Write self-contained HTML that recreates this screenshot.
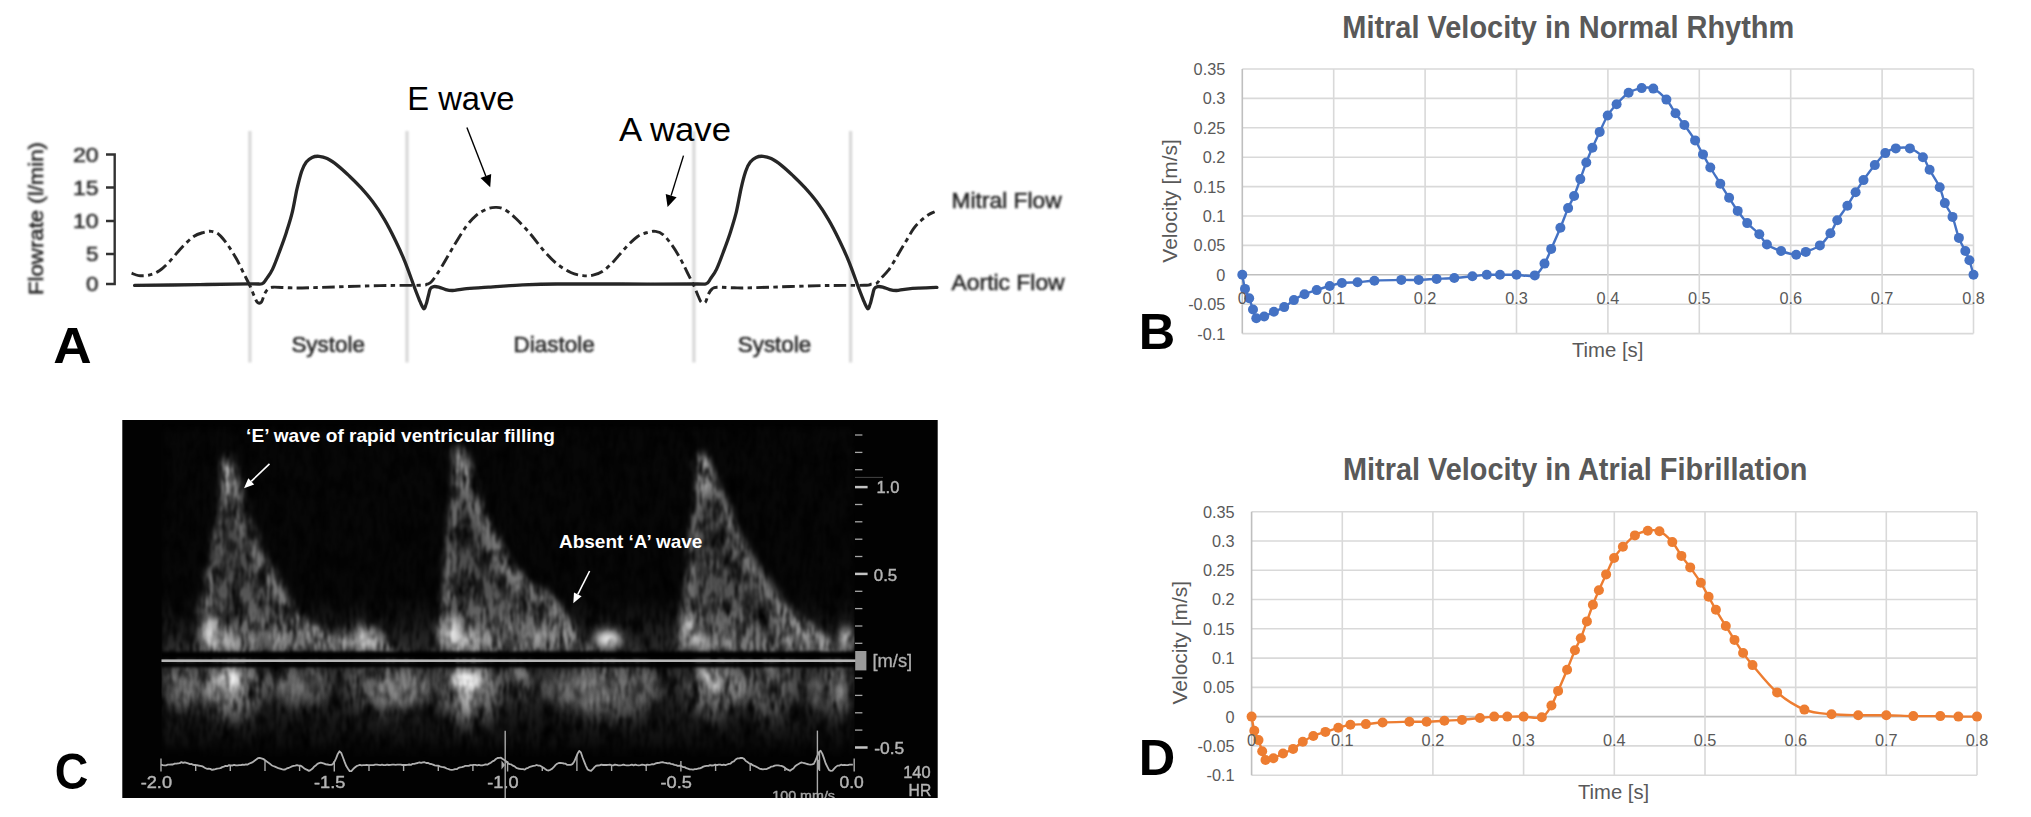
<!DOCTYPE html>
<html lang="en"><head><meta charset="utf-8"><title>Mitral flow figure</title>
<style>html,body{margin:0;padding:0;background:#fff;overflow:hidden}svg{display:block}</style></head><body>
<svg width="2031" height="817" viewBox="0 0 2031 817">
<defs>
<filter id="soft1" filterUnits="userSpaceOnUse" x="0" y="100" width="1100" height="300"><feGaussianBlur stdDeviation="0.95"/></filter>
<filter id="soft" x="-5%" y="-5%" width="110%" height="110%"><feGaussianBlur stdDeviation="0.7"/></filter>
<filter id="gapblur" filterUnits="userSpaceOnUse" x="150" y="640" width="720" height="40"><feGaussianBlur stdDeviation="0 1.6"/></filter>
<filter id="blur7" filterUnits="userSpaceOnUse" x="140" y="640" width="740" height="130"><feGaussianBlur stdDeviation="7 9"/></filter>
<clipPath id="specclip"><rect x="161.5" y="424" width="693" height="333"/></clipPath>
<filter id="speckle" filterUnits="userSpaceOnUse" x="140" y="410" width="740" height="360" color-interpolation-filters="sRGB"><feGaussianBlur in="SourceGraphic" stdDeviation="3.3" result="b"/><feTurbulence type="fractalNoise" baseFrequency="0.3 0.06" numOctaves="2" seed="11" result="t1"/><feColorMatrix in="t1" type="matrix" values="1.7 0 0 0 -0.22  1.7 0 0 0 -0.22  1.7 0 0 0 -0.22  0 0 0 0 1" result="n1"/><feTurbulence type="fractalNoise" baseFrequency="0.07 0.04" numOctaves="3" seed="3" result="t2"/><feColorMatrix in="t2" type="matrix" values="1.9 0 0 0 -0.25  1.9 0 0 0 -0.25  1.9 0 0 0 -0.25  0 0 0 0 1" result="n2"/><feComposite in="n1" in2="n2" operator="arithmetic" k1="1.5" k2="0" k3="0" k4="0" result="n"/><feComposite in="b" in2="n" operator="arithmetic" k1="1" k2="0" k3="0" k4="0" result="m"/><feGaussianBlur in="m" stdDeviation="1.1"/></filter>
<linearGradient id="gAbove" gradientUnits="userSpaceOnUse" x1="0" y1="596" x2="0" y2="653"><stop offset="0" stop-color="#fff" stop-opacity="0"/><stop offset="0.6" stop-color="#fff" stop-opacity="0.09"/><stop offset="1" stop-color="#fff" stop-opacity="0.15"/></linearGradient>
<linearGradient id="gBelow" gradientUnits="userSpaceOnUse" x1="0" y1="667" x2="0" y2="757"><stop offset="0" stop-color="#fff" stop-opacity="0.16"/><stop offset="0.5" stop-color="#fff" stop-opacity="0.08"/><stop offset="1" stop-color="#fff" stop-opacity="0.01"/></linearGradient>
<linearGradient id="gWave" gradientUnits="userSpaceOnUse" x1="0" y1="450" x2="0" y2="650"><stop offset="0" stop-color="#fff" stop-opacity="0.22"/><stop offset="0.6" stop-color="#fff" stop-opacity="0.29"/><stop offset="1" stop-color="#fff" stop-opacity="0.38"/></linearGradient>
<filter id="speckle2" filterUnits="userSpaceOnUse" x="140" y="410" width="740" height="360" color-interpolation-filters="sRGB"><feGaussianBlur in="SourceGraphic" stdDeviation="4.6" result="b"/><feTurbulence type="fractalNoise" baseFrequency="0.13 0.07" numOctaves="2" seed="4" result="t"/><feColorMatrix in="t" type="matrix" values="1.8 0 0 0 0.05  1.8 0 0 0 0.05  1.8 0 0 0 0.05  0 0 0 0 1" result="n"/><feComposite in="b" in2="n" operator="arithmetic" k1="1" k2="0" k3="0" k4="0" result="m"/><feGaussianBlur in="m" stdDeviation="0.8"/></filter>
</defs>
<rect width="2031" height="817" fill="#fff"/>
<g id="panelA">
<rect x="248.3" y="131" width="3.2" height="231.5" fill="#d8d8d8" filter="url(#soft1)"/>
<rect x="405.4" y="131" width="3.2" height="231.5" fill="#d8d8d8" filter="url(#soft1)"/>
<rect x="692.3" y="131" width="3.2" height="231.5" fill="#d8d8d8" filter="url(#soft1)"/>
<rect x="849.0" y="131" width="3.2" height="231.5" fill="#d8d8d8" filter="url(#soft1)"/>
<g stroke="#333" stroke-width="2.4" fill="none" filter="url(#soft)">
<path d="M106,154.5H114.7V284H106M106,187.5H114.7M106,221H114.7M106,254H114.7"/>
</g>
<g font-family='"Liberation Sans", Arial, sans-serif' font-size="20.5" fill="#262626" stroke="#262626" stroke-width="0.45" text-anchor="end" filter="url(#soft1)">
<text x="98.6" y="161.9" textLength="25.7" lengthAdjust="spacingAndGlyphs">20</text>
<text x="98.6" y="194.9" textLength="25.7" lengthAdjust="spacingAndGlyphs">15</text>
<text x="98.6" y="228.4" textLength="25.7" lengthAdjust="spacingAndGlyphs">10</text>
<text x="98.6" y="261.4" textLength="12.5" lengthAdjust="spacingAndGlyphs">5</text>
<text x="98.6" y="291.4" textLength="12.5" lengthAdjust="spacingAndGlyphs">0</text>
</g>
<g filter="url(#soft1)"><text transform="translate(43.4,295) rotate(-90)" font-family='"Liberation Sans", Arial, sans-serif' font-size="20.5" fill="#2c2c2c" stroke="#2c2c2c" stroke-width="0.6" textLength="153" lengthAdjust="spacingAndGlyphs">Flowrate (l/min)</text></g>
<path d="M134.6,285.4C145.5,285.3 180.8,284.9 200.0,284.6C219.2,284.3 239.7,284.0 250.0,283.8C260.4,283.6 259.3,284.6 262.1,283.7C264.9,282.8 264.9,280.8 266.7,278.4C268.4,276.0 270.5,273.6 272.6,269.1C274.7,264.6 277.2,257.8 279.5,251.6C281.8,245.4 284.4,238.5 286.5,231.9C288.6,225.3 290.6,219.3 292.3,212.1C294.1,204.9 295.4,195.6 297.0,188.8C298.6,182.0 300.1,175.9 301.6,171.4C303.2,166.9 304.6,164.4 306.3,162.1C308.1,159.8 310.0,158.4 312.1,157.4C314.2,156.4 316.6,156.1 319.1,156.3C321.6,156.5 324.1,157.1 327.2,158.6C330.3,160.1 334.0,162.7 337.7,165.6C341.4,168.5 345.4,172.3 349.3,176.0C353.2,179.7 357.0,183.4 360.9,187.7C364.8,192.0 368.7,196.4 372.6,201.6C376.5,206.8 380.3,212.5 384.2,219.1C388.1,225.7 392.3,234.0 395.8,241.2C399.3,248.4 402.2,254.9 405.1,262.1C408.0,269.3 411.0,278.0 413.3,284.2C415.6,290.4 417.4,295.2 419.1,299.3C420.8,303.4 422.4,307.8 423.6,308.6C424.8,309.4 425.4,306.1 426.2,304.0C427.0,301.9 427.6,298.5 428.3,296.0C429.0,293.5 429.4,290.4 430.3,288.8C431.2,287.2 432.3,286.9 433.7,286.6C435.1,286.3 436.8,286.6 438.8,287.1C440.8,287.6 443.4,289.0 445.7,289.6C448.0,290.2 449.5,290.6 452.6,290.5C455.7,290.4 458.5,289.4 464.5,288.8C470.5,288.2 478.8,287.8 488.5,287.1C498.2,286.5 511.4,285.4 522.8,284.9C534.2,284.4 540.9,284.1 557.1,284.0C573.3,283.9 597.2,284.0 620.0,284.0C642.8,284.0 679.8,284.1 694.1,284.0C708.5,283.9 703.3,284.6 706.1,283.7C708.9,282.8 709.0,280.8 710.7,278.4C712.5,276.0 714.5,273.6 716.6,269.1C718.7,264.6 721.2,257.8 723.5,251.6C725.8,245.4 728.4,238.5 730.5,231.9C732.6,225.3 734.5,219.3 736.3,212.1C738.0,204.9 739.5,195.6 741.0,188.8C742.5,182.0 744.1,175.9 745.6,171.4C747.1,166.9 748.5,164.4 750.3,162.1C752.0,159.8 754.0,158.4 756.1,157.4C758.2,156.4 760.6,156.1 763.1,156.3C765.6,156.5 768.1,157.1 771.2,158.6C774.3,160.1 778.0,162.7 781.7,165.6C785.4,168.5 789.4,172.3 793.3,176.0C797.2,179.7 801.0,183.4 804.9,187.7C808.8,192.0 812.7,196.4 816.6,201.6C820.5,206.8 824.3,212.5 828.2,219.1C832.1,225.7 836.3,234.0 839.8,241.2C843.3,248.4 846.2,254.9 849.1,262.1C852.0,269.3 855.0,278.0 857.3,284.2C859.6,290.4 861.4,295.2 863.1,299.3C864.8,303.4 866.4,307.8 867.6,308.6C868.8,309.4 869.4,306.1 870.2,304.0C871.0,301.9 871.6,298.5 872.3,296.0C873.0,293.5 873.4,290.4 874.3,288.8C875.2,287.2 876.3,286.9 877.7,286.6C879.1,286.3 880.8,286.6 882.8,287.1C884.8,287.6 887.4,289.0 889.7,289.6C892.0,290.2 893.5,290.6 896.6,290.5C899.7,290.4 901.8,289.3 908.5,288.8C915.2,288.3 932.2,287.6 936.9,287.4" fill="none" stroke="#262626" stroke-width="3.3" stroke-linejoin="round" stroke-linecap="round" filter="url(#soft)"/>
<path d="M131.6,273.2C132.8,273.6 135.9,275.3 138.8,275.6C141.7,275.9 145.6,275.9 149.0,275.1C152.4,274.3 155.9,273.1 159.3,270.8C162.7,268.5 165.9,265.2 169.6,261.4C173.3,257.5 177.6,251.8 181.6,247.7C185.6,243.5 189.9,239.1 193.6,236.5C197.3,233.9 200.9,233.2 203.9,232.3C206.9,231.5 209.0,231.0 211.6,231.4C214.2,231.8 216.6,232.5 219.3,234.8C222.0,237.1 225.0,241.1 227.9,245.1C230.7,249.1 233.8,254.2 236.4,258.8C239.0,263.4 241.0,267.9 243.3,272.5C245.6,277.1 248.3,282.2 250.1,286.2C252.0,290.2 253.2,293.8 254.4,296.5C255.6,299.2 256.2,301.4 257.4,302.3C258.6,303.2 260.3,303.4 261.5,302.0C262.7,300.6 263.4,296.2 264.5,294.0C265.6,291.8 266.6,290.1 268.0,289.0C269.4,287.9 269.3,287.4 273.0,287.2C276.7,287.0 283.9,287.7 290.0,287.8C296.1,287.9 294.9,288.1 309.8,287.7C324.7,287.3 361.1,286.0 379.5,285.6C397.9,285.2 412.1,285.5 420.0,285.3C427.9,285.1 425.0,284.9 427.0,284.2C429.0,283.5 429.4,284.2 432.0,281.1C434.6,278.0 438.6,271.7 442.3,265.7C446.0,259.7 450.3,251.7 454.3,245.1C458.3,238.5 462.6,231.3 466.3,226.3C470.0,221.3 473.1,218.0 476.5,215.1C479.9,212.2 483.7,210.4 486.8,209.1C489.9,207.8 492.5,207.4 495.4,207.4C498.3,207.4 500.6,207.2 504.0,209.1C507.4,210.9 511.6,214.5 515.9,218.5C520.2,222.5 525.1,227.8 529.7,233.1C534.3,238.4 538.8,245.0 543.4,250.2C548.0,255.3 552.5,260.3 557.1,264.0C561.7,267.7 566.5,270.6 570.8,272.5C575.1,274.4 579.1,275.2 582.8,275.6C586.5,276.0 589.6,275.9 593.0,275.1C596.4,274.3 599.9,273.1 603.3,270.8C606.7,268.5 609.9,265.2 613.6,261.4C617.3,257.5 621.6,251.8 625.6,247.7C629.6,243.5 633.9,239.1 637.6,236.5C641.3,233.9 644.9,233.2 647.9,232.3C650.9,231.5 653.0,231.0 655.6,231.4C658.2,231.8 660.6,232.5 663.3,234.8C666.0,237.1 669.0,241.1 671.9,245.1C674.8,249.1 677.8,254.2 680.4,258.8C683.0,263.4 685.0,267.9 687.3,272.5C689.6,277.1 692.2,282.2 694.1,286.2C696.0,290.2 697.2,293.8 698.4,296.5C699.6,299.2 700.2,301.4 701.4,302.3C702.6,303.2 704.3,303.4 705.5,302.0C706.7,300.6 707.4,296.2 708.5,294.0C709.6,291.8 710.6,290.1 712.0,289.0C713.4,287.9 713.3,287.4 717.0,287.2C720.7,287.0 727.9,287.7 734.0,287.8C740.1,287.9 738.9,288.1 753.8,287.7C768.7,287.3 805.1,286.0 823.5,285.6C841.9,285.2 856.1,285.5 864.0,285.3C871.9,285.1 868.9,284.5 871.0,284.2C873.1,283.9 875.1,284.2 876.7,283.3C878.3,282.4 878.4,281.1 880.4,278.9C882.4,276.7 886.0,273.3 888.5,270.1C891.0,266.9 893.0,263.2 895.1,259.8C897.2,256.4 899.0,252.8 901.0,249.5C903.0,246.2 904.7,243.3 906.8,239.9C908.9,236.5 911.1,232.1 913.4,228.9C915.7,225.7 918.3,223.1 920.8,220.8C923.2,218.5 925.8,216.5 928.1,215.0C930.4,213.5 933.5,212.3 934.6,211.8" fill="none" stroke="#262626" stroke-width="2.9" stroke-dasharray="12.5 4.4 4.4 4.4" filter="url(#soft)"/>
<g font-family='"Liberation Sans", Arial, sans-serif' font-size="22.6" fill="#262626" stroke="#262626" stroke-width="0.55" filter="url(#soft1)">
<text x="951.6" y="208.1" textLength="110" lengthAdjust="spacingAndGlyphs">Mitral Flow</text>
<text x="951.6" y="289.9" textLength="113" lengthAdjust="spacingAndGlyphs">Aortic Flow</text>
<text x="291.4" y="352.2" textLength="73.6" lengthAdjust="spacingAndGlyphs">Systole</text>
<text x="513.4" y="352.2" textLength="81.3" lengthAdjust="spacingAndGlyphs">Diastole</text>
<text x="737.7" y="352.2" textLength="73.6" lengthAdjust="spacingAndGlyphs">Systole</text>
</g>
<g font-family='"Liberation Sans", Arial, sans-serif' font-size="34" fill="#000">
<text x="407.3" y="109.6" textLength="107.2" lengthAdjust="spacingAndGlyphs">E wave</text>
<text x="619" y="141" textLength="112" lengthAdjust="spacingAndGlyphs">A wave</text>
</g>
<line x1="466.9" y1="127.4" x2="485.8" y2="176.0" stroke="#000" stroke-width="1.4"/>
<polygon points="490.2,187.2 480.5,178.1 491.2,173.9" fill="#000"/>
<line x1="683.5" y1="155.6" x2="671.1" y2="195.6" stroke="#000" stroke-width="1.4"/>
<polygon points="667.6,207.1 665.7,194.0 676.6,197.3" fill="#000"/>
</g>
<g>
<g stroke="#d9d9d9" stroke-width="1.6" fill="none">
<line x1="1242.3" y1="69.0" x2="1973.5" y2="69.0"/>
<line x1="1242.3" y1="98.4" x2="1973.5" y2="98.4"/>
<line x1="1242.3" y1="127.8" x2="1973.5" y2="127.8"/>
<line x1="1242.3" y1="157.2" x2="1973.5" y2="157.2"/>
<line x1="1242.3" y1="186.6" x2="1973.5" y2="186.6"/>
<line x1="1242.3" y1="216.0" x2="1973.5" y2="216.0"/>
<line x1="1242.3" y1="245.4" x2="1973.5" y2="245.4"/>
<line x1="1242.3" y1="274.8" x2="1973.5" y2="274.8" stroke="#bfbfbf"/>
<line x1="1242.3" y1="304.2" x2="1973.5" y2="304.2"/>
<line x1="1242.3" y1="333.6" x2="1973.5" y2="333.6"/>
<line x1="1242.3" y1="69.0" x2="1242.3" y2="333.6" stroke="#bfbfbf"/>
<line x1="1333.7" y1="69.0" x2="1333.7" y2="333.6"/>
<line x1="1425.1" y1="69.0" x2="1425.1" y2="333.6"/>
<line x1="1516.5" y1="69.0" x2="1516.5" y2="333.6"/>
<line x1="1607.9" y1="69.0" x2="1607.9" y2="333.6"/>
<line x1="1699.3" y1="69.0" x2="1699.3" y2="333.6"/>
<line x1="1790.7" y1="69.0" x2="1790.7" y2="333.6"/>
<line x1="1882.1" y1="69.0" x2="1882.1" y2="333.6"/>
<line x1="1973.5" y1="69.0" x2="1973.5" y2="333.6"/>
</g>
<path d="M1242.3,274.8C1242.8,277.2 1243.9,285.0 1245.0,288.9C1246.2,292.8 1247.9,294.9 1249.2,298.3C1250.6,301.8 1251.8,306.2 1253.0,309.5C1254.2,312.8 1254.4,317.1 1256.3,318.3C1258.2,319.5 1261.3,317.6 1264.2,316.5C1267.2,315.5 1270.6,313.4 1273.9,311.8C1277.2,310.3 1280.8,309.1 1284.2,307.1C1287.5,305.2 1290.6,302.2 1293.9,300.1C1297.3,297.9 1300.7,295.9 1304.5,294.2C1308.2,292.5 1312.5,291.5 1316.7,290.1C1320.9,288.7 1325.5,287.1 1329.7,286.0C1333.9,284.8 1337.3,283.6 1341.9,283.0C1346.6,282.4 1352.1,282.7 1357.5,282.3C1362.9,281.9 1367.1,281.1 1374.4,280.7C1381.7,280.3 1393.9,280.0 1401.3,279.9C1408.7,279.8 1412.8,280.1 1418.7,279.9C1424.6,279.7 1430.7,279.2 1436.6,278.9C1442.6,278.6 1448.4,278.5 1454.3,278.0C1460.3,277.6 1467.0,276.8 1472.4,276.2C1477.9,275.7 1482.2,275.0 1486.8,274.8C1491.4,274.6 1495.1,274.8 1500.0,274.8C1505.0,274.8 1510.7,274.7 1516.5,274.8C1522.3,274.9 1530.1,277.3 1534.8,275.4C1539.4,273.5 1541.7,268.0 1544.5,263.6C1547.2,259.2 1548.6,254.9 1551.2,248.9C1553.9,242.9 1557.6,234.6 1560.4,227.8C1563.2,220.9 1565.9,213.4 1568.1,208.1C1570.4,202.8 1572.1,200.8 1574.1,196.0C1576.1,191.2 1578.3,184.7 1580.3,179.1C1582.3,173.5 1584.3,167.7 1586.3,162.5C1588.3,157.3 1590.1,152.9 1592.4,147.8C1594.6,142.7 1597.1,137.3 1599.7,131.9C1602.2,126.5 1604.9,120.1 1607.7,115.5C1610.5,110.8 1613.1,108.1 1616.6,104.3C1620.1,100.5 1624.5,95.5 1628.6,92.8C1632.8,90.1 1637.6,88.8 1641.7,88.1C1645.8,87.4 1649.2,86.7 1653.3,88.6C1657.4,90.5 1662.7,95.5 1666.4,99.6C1670.1,103.7 1672.5,109.1 1675.5,113.3C1678.5,117.6 1681.1,120.5 1684.4,125.0C1687.7,129.5 1692.0,135.5 1695.1,140.4C1698.2,145.3 1700.4,149.9 1703.0,154.4C1705.5,158.9 1707.4,162.6 1710.3,167.5C1713.2,172.4 1717.2,178.7 1720.3,183.8C1723.5,188.8 1726.2,193.3 1729.1,197.8C1732.0,202.3 1734.7,206.7 1737.7,210.9C1740.7,215.1 1743.6,219.2 1747.2,223.1C1750.8,226.9 1756.0,230.7 1759.3,234.2C1762.5,237.8 1763.3,241.7 1766.9,244.5C1770.6,247.3 1776.2,249.3 1781.1,251.0C1786.0,252.7 1792.1,254.7 1796.2,254.8C1800.3,255.0 1801.8,253.4 1805.8,251.9C1809.7,250.3 1815.9,248.5 1819.9,245.4C1824.0,242.3 1827.5,237.5 1830.4,233.3C1833.3,229.1 1834.5,224.8 1837.3,220.2C1840.1,215.6 1844.3,210.4 1847.4,205.7C1850.4,201.0 1852.9,196.4 1855.6,192.2C1858.3,187.9 1860.3,184.6 1863.5,180.1C1866.7,175.6 1871.1,169.6 1874.8,165.1C1878.4,160.6 1881.8,155.9 1885.3,153.1C1888.8,150.3 1891.7,149.2 1895.8,148.4C1899.9,147.6 1905.4,146.9 1909.9,148.4C1914.4,149.8 1919.6,153.6 1922.9,157.2C1926.2,160.8 1926.8,164.8 1929.6,169.8C1932.4,174.8 1937.2,181.6 1939.7,187.2C1942.2,192.7 1942.7,198.1 1944.8,203.1C1946.9,208.0 1950.1,211.1 1952.5,216.9C1954.8,222.8 1956.7,232.3 1958.9,237.9C1961.0,243.6 1963.5,247.3 1965.3,251.0C1967.0,254.7 1968.0,256.4 1969.4,260.3C1970.8,264.3 1972.8,272.4 1973.5,274.8" fill="none" stroke="#4472c4" stroke-width="2.4" stroke-linejoin="round"/>
<g fill="#4472c4">
<circle cx="1242.3" cy="274.8" r="5"/>
<circle cx="1245.0" cy="288.9" r="5"/>
<circle cx="1249.2" cy="298.3" r="5"/>
<circle cx="1253.0" cy="309.5" r="5"/>
<circle cx="1256.3" cy="318.3" r="5"/>
<circle cx="1264.2" cy="316.5" r="5"/>
<circle cx="1273.9" cy="311.8" r="5"/>
<circle cx="1284.2" cy="307.1" r="5"/>
<circle cx="1293.9" cy="300.1" r="5"/>
<circle cx="1304.5" cy="294.2" r="5"/>
<circle cx="1316.7" cy="290.1" r="5"/>
<circle cx="1329.7" cy="286.0" r="5"/>
<circle cx="1341.9" cy="283.0" r="5"/>
<circle cx="1357.5" cy="282.3" r="5"/>
<circle cx="1374.4" cy="280.7" r="5"/>
<circle cx="1401.3" cy="279.9" r="5"/>
<circle cx="1418.7" cy="279.9" r="5"/>
<circle cx="1436.6" cy="278.9" r="5"/>
<circle cx="1454.3" cy="278.0" r="5"/>
<circle cx="1472.4" cy="276.2" r="5"/>
<circle cx="1486.8" cy="274.8" r="5"/>
<circle cx="1500.0" cy="274.8" r="5"/>
<circle cx="1516.5" cy="274.8" r="5"/>
<circle cx="1534.8" cy="275.4" r="5"/>
<circle cx="1544.5" cy="263.6" r="5"/>
<circle cx="1551.2" cy="248.9" r="5"/>
<circle cx="1560.4" cy="227.8" r="5"/>
<circle cx="1568.1" cy="208.1" r="5"/>
<circle cx="1574.1" cy="196.0" r="5"/>
<circle cx="1580.3" cy="179.1" r="5"/>
<circle cx="1586.3" cy="162.5" r="5"/>
<circle cx="1592.4" cy="147.8" r="5"/>
<circle cx="1599.7" cy="131.9" r="5"/>
<circle cx="1607.7" cy="115.5" r="5"/>
<circle cx="1616.6" cy="104.3" r="5"/>
<circle cx="1628.6" cy="92.8" r="5"/>
<circle cx="1641.7" cy="88.1" r="5"/>
<circle cx="1653.3" cy="88.6" r="5"/>
<circle cx="1666.4" cy="99.6" r="5"/>
<circle cx="1675.5" cy="113.3" r="5"/>
<circle cx="1684.4" cy="125.0" r="5"/>
<circle cx="1695.1" cy="140.4" r="5"/>
<circle cx="1703.0" cy="154.4" r="5"/>
<circle cx="1710.3" cy="167.5" r="5"/>
<circle cx="1720.3" cy="183.8" r="5"/>
<circle cx="1729.1" cy="197.8" r="5"/>
<circle cx="1737.7" cy="210.9" r="5"/>
<circle cx="1747.2" cy="223.1" r="5"/>
<circle cx="1759.3" cy="234.2" r="5"/>
<circle cx="1766.9" cy="244.5" r="5"/>
<circle cx="1781.1" cy="251.0" r="5"/>
<circle cx="1796.2" cy="254.8" r="5"/>
<circle cx="1805.8" cy="251.9" r="5"/>
<circle cx="1819.9" cy="245.4" r="5"/>
<circle cx="1830.4" cy="233.3" r="5"/>
<circle cx="1837.3" cy="220.2" r="5"/>
<circle cx="1847.4" cy="205.7" r="5"/>
<circle cx="1855.6" cy="192.2" r="5"/>
<circle cx="1863.5" cy="180.1" r="5"/>
<circle cx="1874.8" cy="165.1" r="5"/>
<circle cx="1885.3" cy="153.1" r="5"/>
<circle cx="1895.8" cy="148.4" r="5"/>
<circle cx="1909.9" cy="148.4" r="5"/>
<circle cx="1922.9" cy="157.2" r="5"/>
<circle cx="1929.6" cy="169.8" r="5"/>
<circle cx="1939.7" cy="187.2" r="5"/>
<circle cx="1944.8" cy="203.1" r="5"/>
<circle cx="1952.5" cy="216.9" r="5"/>
<circle cx="1958.9" cy="237.9" r="5"/>
<circle cx="1965.3" cy="251.0" r="5"/>
<circle cx="1969.4" cy="260.3" r="5"/>
<circle cx="1973.5" cy="274.8" r="5"/>
</g>
<g font-family='"Liberation Sans", Arial, sans-serif' font-size="16.3" fill="#595959">
<text x="1225.3" y="74.9" text-anchor="end">0.35</text>
<text x="1225.3" y="104.3" text-anchor="end">0.3</text>
<text x="1225.3" y="133.7" text-anchor="end">0.25</text>
<text x="1225.3" y="163.1" text-anchor="end">0.2</text>
<text x="1225.3" y="192.5" text-anchor="end">0.15</text>
<text x="1225.3" y="221.9" text-anchor="end">0.1</text>
<text x="1225.3" y="251.3" text-anchor="end">0.05</text>
<text x="1225.3" y="280.7" text-anchor="end">0</text>
<text x="1225.3" y="310.1" text-anchor="end">-0.05</text>
<text x="1225.3" y="339.5" text-anchor="end">-0.1</text>
<text x="1242.3" y="304.4" text-anchor="middle">0</text>
<text x="1333.7" y="304.4" text-anchor="middle">0.1</text>
<text x="1425.1" y="304.4" text-anchor="middle">0.2</text>
<text x="1516.5" y="304.4" text-anchor="middle">0.3</text>
<text x="1607.9" y="304.4" text-anchor="middle">0.4</text>
<text x="1699.3" y="304.4" text-anchor="middle">0.5</text>
<text x="1790.7" y="304.4" text-anchor="middle">0.6</text>
<text x="1882.1" y="304.4" text-anchor="middle">0.7</text>
<text x="1973.5" y="304.4" text-anchor="middle">0.8</text>
</g>
<text x="1342.3" y="37.6" font-family='"Liberation Sans", Arial, sans-serif' font-weight="bold" font-size="30.5" fill="#595959" textLength="452.0" lengthAdjust="spacingAndGlyphs">Mitral Velocity in Normal Rhythm</text>
<text x="1571.9" y="357.0" font-family='"Liberation Sans", Arial, sans-serif' font-size="20.3" fill="#595959" textLength="71.5" lengthAdjust="spacingAndGlyphs">Time [s]</text>
</g>
<text transform="translate(1177,262.7) rotate(-90)" font-family='"Liberation Sans", Arial, sans-serif' font-size="20.3" fill="#595959" textLength="123.6" lengthAdjust="spacingAndGlyphs">Velocity [m/s]</text>
<g id="panelC">
<rect x="122.3" y="420" width="815.4" height="378" fill="#020202"/>
<g clip-path="url(#specclip)"><g filter="url(#speckle)">
<rect x="161.5" y="428" width="693" height="318" fill="#fff" fill-opacity="0.025"/>
<rect x="161.5" y="596" width="693" height="57" fill="url(#gAbove)"/>
<rect x="161.5" y="667" width="693" height="90" fill="url(#gBelow)"/>
<g filter="url(#blur7)">
<ellipse cx="182.0" cy="682.0" rx="20.0" ry="26.0" fill="#fff" fill-opacity="0.26"/>
<ellipse cx="232.0" cy="686.0" rx="30.0" ry="34.0" fill="#fff" fill-opacity="0.40"/>
<ellipse cx="295.0" cy="680.0" rx="34.0" ry="22.0" fill="#fff" fill-opacity="0.20"/>
<ellipse cx="388.0" cy="684.0" rx="42.0" ry="30.0" fill="#fff" fill-opacity="0.25"/>
<ellipse cx="470.0" cy="688.0" rx="30.0" ry="36.0" fill="#fff" fill-opacity="0.42"/>
<ellipse cx="522.0" cy="678.0" rx="18.0" ry="20.0" fill="#fff" fill-opacity="0.22"/>
<ellipse cx="612.0" cy="686.0" rx="46.0" ry="34.0" fill="#fff" fill-opacity="0.27"/>
<ellipse cx="714.0" cy="684.0" rx="26.0" ry="32.0" fill="#fff" fill-opacity="0.40"/>
<ellipse cx="770.0" cy="686.0" rx="30.0" ry="34.0" fill="#fff" fill-opacity="0.25"/>
<ellipse cx="836.0" cy="684.0" rx="18.0" ry="32.0" fill="#fff" fill-opacity="0.25"/>
</g>
<polygon points="197.0,652.0 200.0,615.0 212.0,557.0 222.0,495.0 226.0,464.0 229.0,455.0 235.0,470.0 242.0,495.0 250.0,516.0 261.0,550.0 272.0,574.0 284.0,590.0 294.0,608.0 308.0,622.0 325.0,629.0 337.0,637.0 350.0,635.0 366.0,628.0 380.0,632.0 392.0,645.0 396.0,652.0" fill="url(#gWave)"/>
<polyline points="202.0,615.0 214.0,557.0 224.0,495.0 228.0,464.0 231.0,455.0" fill="none" stroke="#fff" stroke-opacity="0.3" stroke-width="8" stroke-linejoin="round"/>
<polyline points="224.7,459.5 231.8,475.7 238.4,500.5 242.2,518.8 258.7,553.9 269.4,574.7 278.8,591.5 289.3,611.4 300.1,623.3 318.7,634.5 333.6,638.0 346.8,635.8 361.7,628.8 372.0,637.2" fill="none" stroke="#fff" stroke-opacity="0.24" stroke-width="15" stroke-linejoin="round"/>
<polygon points="435.0,652.0 438.0,636.0 444.0,586.0 450.0,524.0 456.0,466.0 460.7,446.0 469.0,464.0 479.0,496.0 492.0,525.0 509.0,557.0 529.0,582.0 549.0,596.0 564.0,609.0 573.0,627.0 579.0,640.0 590.0,647.0 600.0,652.0" fill="url(#gWave)"/>
<polyline points="440.0,636.0 446.0,586.0 452.0,524.0 458.0,466.0 462.7,446.0" fill="none" stroke="#fff" stroke-opacity="0.3" stroke-width="8" stroke-linejoin="round"/>
<polyline points="454.0,447.3 466.9,469.2 472.7,501.8 487.2,529.1 502.2,562.6 525.1,587.8 546.4,597.8 558.2,610.0 565.9,627.4 572.8,643.6" fill="none" stroke="#fff" stroke-opacity="0.24" stroke-width="15" stroke-linejoin="round"/>
<polygon points="677.0,652.0 680.0,636.0 686.0,595.0 692.0,528.0 698.0,474.0 703.0,452.0 715.0,472.0 725.0,500.0 739.0,533.0 754.0,563.0 770.0,588.0 786.0,605.0 801.0,618.0 817.0,628.0 829.0,640.0 838.0,646.0 854.0,650.0 854.0,652.0" fill="url(#gWave)"/>
<polyline points="682.0,636.0 688.0,595.0 694.0,528.0 700.0,474.0 705.0,452.0" fill="none" stroke="#fff" stroke-opacity="0.3" stroke-width="8" stroke-linejoin="round"/>
<polyline points="695.0,456.1 709.0,473.9 721.9,502.9 732.9,535.9 750.2,563.3 767.9,588.1 782.5,610.1 793.1,622.7 811.2,631.5 821.1,640.3 831.1,651.7" fill="none" stroke="#fff" stroke-opacity="0.24" stroke-width="15" stroke-linejoin="round"/>
<ellipse cx="228.5" cy="478.0" rx="6.0" ry="22.0" fill="#fff" fill-opacity="0.42"/>
<ellipse cx="461.0" cy="470.0" rx="6.0" ry="22.0" fill="#fff" fill-opacity="0.42"/>
<ellipse cx="703.5" cy="476.0" rx="6.0" ry="22.0" fill="#fff" fill-opacity="0.42"/>
</g>
<g filter="url(#speckle2)">
<ellipse cx="211.0" cy="632.0" rx="6.0" ry="17.0" fill="#fff" fill-opacity="0.95"/>
<ellipse cx="229.0" cy="641.0" rx="9.0" ry="9.0" fill="#fff" fill-opacity="0.70"/>
<ellipse cx="366.0" cy="640.0" rx="16.0" ry="9.0" fill="#fff" fill-opacity="0.60"/>
<ellipse cx="340.0" cy="645.0" rx="10.0" ry="6.0" fill="#fff" fill-opacity="0.35"/>
<ellipse cx="270.0" cy="640.0" rx="20.0" ry="8.0" fill="#fff" fill-opacity="0.30"/>
<ellipse cx="230.0" cy="678.0" rx="13.0" ry="9.0" fill="#fff" fill-opacity="0.95"/>
<ellipse cx="222.0" cy="690.0" rx="16.0" ry="12.0" fill="#fff" fill-opacity="0.35"/>
<ellipse cx="452.0" cy="633.0" rx="8.0" ry="16.0" fill="#fff" fill-opacity="0.95"/>
<ellipse cx="467.0" cy="640.0" rx="8.0" ry="9.0" fill="#fff" fill-opacity="0.70"/>
<ellipse cx="484.0" cy="638.0" rx="6.0" ry="9.0" fill="#fff" fill-opacity="0.60"/>
<ellipse cx="608.0" cy="639.0" rx="13.0" ry="8.0" fill="#fff" fill-opacity="0.95"/>
<ellipse cx="530.0" cy="636.0" rx="30.0" ry="10.0" fill="#fff" fill-opacity="0.30"/>
<ellipse cx="467.0" cy="680.0" rx="17.0" ry="10.0" fill="#fff" fill-opacity="0.95"/>
<ellipse cx="470.0" cy="697.0" rx="12.0" ry="14.0" fill="#fff" fill-opacity="0.40"/>
<ellipse cx="520.0" cy="675.0" rx="8.0" ry="6.0" fill="#fff" fill-opacity="0.35"/>
<ellipse cx="688.0" cy="628.0" rx="5.0" ry="14.0" fill="#fff" fill-opacity="0.85"/>
<ellipse cx="697.0" cy="640.0" rx="9.0" ry="8.0" fill="#fff" fill-opacity="0.80"/>
<ellipse cx="727.0" cy="640.0" rx="6.0" ry="7.0" fill="#fff" fill-opacity="0.70"/>
<ellipse cx="846.0" cy="638.0" rx="8.0" ry="10.0" fill="#fff" fill-opacity="0.75"/>
<ellipse cx="800.0" cy="640.0" rx="20.0" ry="8.0" fill="#fff" fill-opacity="0.30"/>
<ellipse cx="705.0" cy="676.0" rx="6.0" ry="6.0" fill="#fff" fill-opacity="0.80"/>
<ellipse cx="716.0" cy="683.0" rx="7.0" ry="7.0" fill="#fff" fill-opacity="0.85"/>
<ellipse cx="770.0" cy="672.0" rx="5.0" ry="6.0" fill="#fff" fill-opacity="0.50"/>
<ellipse cx="815.0" cy="690.0" rx="3.0" ry="18.0" fill="#fff" fill-opacity="0.60"/>
<ellipse cx="740.0" cy="690.0" rx="4.0" ry="14.0" fill="#fff" fill-opacity="0.45"/>
<ellipse cx="842.0" cy="690.0" rx="5.0" ry="18.0" fill="#fff" fill-opacity="0.40"/>
<ellipse cx="180.0" cy="690.0" rx="14.0" ry="16.0" fill="#fff" fill-opacity="0.25"/>
<ellipse cx="300.0" cy="690.0" rx="30.0" ry="16.0" fill="#fff" fill-opacity="0.20"/>
<ellipse cx="400.0" cy="690.0" rx="30.0" ry="18.0" fill="#fff" fill-opacity="0.25"/>
<ellipse cx="580.0" cy="690.0" rx="40.0" ry="18.0" fill="#fff" fill-opacity="0.25"/>
<ellipse cx="640.0" cy="690.0" rx="20.0" ry="14.0" fill="#fff" fill-opacity="0.20"/>
</g></g>
<rect x="161.5" y="652" width="693" height="6.5" fill="#000" filter="url(#gapblur)"/>
<rect x="161.5" y="662.6" width="693" height="4.4" fill="#000" filter="url(#gapblur)"/>
<rect x="161.5" y="659.4" width="695" height="2.6" fill="#b6b6b6" filter="url(#soft)"/>
<line x1="472" y1="482" x2="472" y2="625" stroke="#bbb" stroke-opacity="0.35" stroke-width="1.6" filter="url(#soft)"/>
<g stroke="#a6a6a6" filter="url(#soft)">
<line x1="855" y1="747.5" x2="867.6" y2="747.5" stroke-width="2.5" stroke="#c4c4c4"/>
<line x1="855" y1="730.1" x2="862.4" y2="730.1" stroke-width="1.3"/>
<line x1="855" y1="712.8" x2="862.4" y2="712.8" stroke-width="1.3"/>
<line x1="855" y1="695.4" x2="862.4" y2="695.4" stroke-width="1.3"/>
<line x1="855" y1="678.1" x2="862.4" y2="678.1" stroke-width="1.3"/>
<line x1="855" y1="643.3" x2="862.4" y2="643.3" stroke-width="1.3"/>
<line x1="855" y1="626.0" x2="862.4" y2="626.0" stroke-width="1.3"/>
<line x1="855" y1="608.6" x2="862.4" y2="608.6" stroke-width="1.3"/>
<line x1="855" y1="591.3" x2="862.4" y2="591.3" stroke-width="1.3"/>
<line x1="855" y1="573.9" x2="867.6" y2="573.9" stroke-width="2.5" stroke="#c4c4c4"/>
<line x1="855" y1="556.5" x2="862.4" y2="556.5" stroke-width="1.3"/>
<line x1="855" y1="539.2" x2="862.4" y2="539.2" stroke-width="1.3"/>
<line x1="855" y1="521.8" x2="862.4" y2="521.8" stroke-width="1.3"/>
<line x1="855" y1="504.5" x2="862.4" y2="504.5" stroke-width="1.3"/>
<line x1="855" y1="487.1" x2="867.6" y2="487.1" stroke-width="2.5" stroke="#c4c4c4"/>
<line x1="855" y1="469.7" x2="862.4" y2="469.7" stroke-width="1.3"/>
<line x1="855" y1="452.4" x2="862.4" y2="452.4" stroke-width="1.3"/>
<line x1="855" y1="435.0" x2="862.4" y2="435.0" stroke-width="1.3"/>
<line x1="855" y1="477.4" x2="883" y2="477.4" stroke-width="1" stroke-opacity="0.4"/>
</g>
<rect x="855.2" y="651" width="11.2" height="19.4" fill="#9a9a9a" filter="url(#soft)"/>
<g font-family='"Liberation Sans", Arial, sans-serif' font-size="17.3" fill="#b4b4b4" stroke="#b4b4b4" stroke-width="0.45" filter="url(#soft)">
<text x="876.4" y="492.9" textLength="23" lengthAdjust="spacingAndGlyphs">1.0</text>
<text x="873.8" y="581.1" textLength="23.4" lengthAdjust="spacingAndGlyphs">0.5</text>
<text x="874.2" y="753.8" textLength="30" lengthAdjust="spacingAndGlyphs">-0.5</text>
<text x="903.2" y="778.2" textLength="27.4" lengthAdjust="spacingAndGlyphs">140</text>
<text x="908.6" y="795.7" textLength="22.6" lengthAdjust="spacingAndGlyphs">HR</text>
<text x="140.7" y="788.4" textLength="31.3" lengthAdjust="spacingAndGlyphs">-2.0</text>
<text x="314.0" y="788.4" textLength="31.3" lengthAdjust="spacingAndGlyphs">-1.5</text>
<text x="487.3" y="788.4" textLength="31.3" lengthAdjust="spacingAndGlyphs">-1.0</text>
<text x="660.5" y="788.4" textLength="31.3" lengthAdjust="spacingAndGlyphs">-0.5</text>
<text x="839.5" y="788.4" textLength="24.3" lengthAdjust="spacingAndGlyphs">0.0</text>
</g>
<text x="872.4" y="667.2" font-family='"Liberation Sans", Arial, sans-serif' font-size="18" fill="#b0b0b0" stroke="#b0b0b0" stroke-width="0.3" textLength="39.8" lengthAdjust="spacingAndGlyphs" filter="url(#soft)">[m/s]</text>
<clipPath id="panclip"><rect x="122.3" y="420" width="815.4" height="378"/></clipPath>
<text x="772.3" y="799.6" clip-path="url(#panclip)" font-family='"Liberation Sans", Arial, sans-serif' font-size="13.6" fill="#a4a4a4" stroke="#a4a4a4" stroke-width="0.45" textLength="62.7" lengthAdjust="spacingAndGlyphs" filter="url(#soft)">100 mm/s</text>
<g stroke="#a9a9a9" fill="none" filter="url(#soft)">
<path d="M161.0,758.6V771.4M195.7,765.1V771M230.3,765.4V771M265.0,760.3V771M299.6,765.6V771M334.3,761.0V771.4M369.0,765.0V771M403.6,765.0V771M438.3,765.8V771M472.9,765.1V771M507.6,761.0V771.4M542.3,766.9V771M576.9,754.8V771M611.6,765.0V771M646.2,764.9V771M680.9,761.0V771.4M715.6,765.1V771M750.2,763.8V771M784.9,768.2V771M819.5,751.4V771M854.2,758.6V771.4" stroke-width="1.4"/>
<polyline points="161.0,764.7 162.7,765.2 164.4,765.3 166.1,765.3 167.8,764.7 169.5,764.6 171.2,764.5 172.9,764.5 174.6,763.6 176.3,763.7 178.0,763.4 179.7,763.1 181.4,762.1 183.1,762.9 184.8,762.3 186.5,762.8 188.2,763.4 189.9,764.1 191.6,764.0 193.3,764.9 195.0,765.0 196.7,765.1 198.4,765.5 200.1,765.8 201.8,766.2 203.5,766.9 205.2,768.0 206.9,768.8 208.6,768.6 210.3,768.9 212.0,769.9 213.7,769.5 215.4,769.2 217.1,768.6 218.8,768.4 220.5,768.1 222.2,767.1 223.9,766.6 225.6,765.8 227.3,766.2 229.0,765.1 230.7,765.3 232.4,765.5 234.1,764.8 235.8,765.3 237.5,765.4 239.2,765.1 240.9,765.2 242.6,764.6 244.3,764.8 246.0,764.3 247.7,764.6 249.4,763.5 251.1,762.8 252.8,762.1 254.5,760.7 256.2,759.5 257.9,758.2 259.6,757.8 261.3,758.3 263.0,758.9 264.7,759.9 266.4,761.3 268.1,762.4 269.8,763.7 271.5,765.2 273.2,766.0 274.9,766.6 276.6,767.4 278.3,768.1 280.0,768.6 281.7,769.2 283.4,769.7 285.1,769.5 286.8,768.4 288.5,768.0 290.2,767.2 291.9,766.4 293.6,765.9 295.3,765.7 297.0,765.2 298.7,765.6 300.4,765.6 302.1,766.6 303.8,768.0 305.5,769.2 307.2,769.9 308.9,770.9 310.6,770.1 312.3,768.8 314.0,766.8 315.7,765.6 317.4,763.9 319.1,763.2 320.8,762.6 322.5,763.1 324.2,763.6 325.9,764.4 327.6,764.5 329.3,764.9 331.0,764.9 332.7,764.3 334.4,761.8 336.1,758.4 337.8,753.9 339.5,751.3 341.2,752.9 342.9,757.3 344.6,761.9 346.3,766.1 348.0,768.8 349.7,771.1 351.4,771.1 353.1,769.2 354.8,767.5 356.5,766.2 358.2,765.5 359.9,764.8 361.6,765.3 363.3,765.1 365.0,765.1 366.7,764.9 368.4,765.1 370.1,765.2 371.8,765.1 373.5,765.2 375.2,764.6 376.9,764.7 378.6,764.9 380.3,765.1 382.0,764.7 383.7,765.2 385.4,765.1 387.1,764.6 388.8,765.0 390.5,764.8 392.2,764.6 393.9,764.7 395.6,764.8 397.3,764.7 399.0,764.7 400.7,764.6 402.4,765.0 404.1,764.9 405.8,765.0 407.5,764.9 409.2,764.5 410.9,764.9 412.6,763.8 414.3,763.8 416.0,763.3 417.7,763.0 419.4,762.4 421.1,762.9 422.8,762.4 424.5,762.2 426.2,763.0 427.9,762.9 429.6,763.8 431.3,764.0 433.0,764.6 434.7,765.4 436.4,765.6 438.1,765.6 439.8,766.4 441.5,766.8 443.2,767.1 444.9,767.5 446.6,768.5 448.3,769.0 450.0,769.7 451.7,769.9 453.4,769.6 455.1,769.1 456.8,769.2 458.5,767.9 460.2,767.4 461.9,767.2 463.6,766.7 465.3,765.8 467.0,765.9 468.7,765.9 470.4,765.2 472.1,765.1 473.8,764.9 475.5,764.9 477.2,765.4 478.9,764.9 480.6,765.4 482.3,765.3 484.0,764.9 485.7,764.4 487.4,764.7 489.1,763.6 490.8,762.7 492.5,761.4 494.2,760.7 495.9,759.0 497.6,758.0 499.3,757.8 501.0,757.7 502.7,759.0 504.4,760.1 506.1,761.3 507.8,763.0 509.5,764.2 511.2,764.4 512.9,765.7 514.6,766.3 516.3,767.8 518.0,768.5 519.7,768.8 521.4,769.2 523.1,769.2 524.8,769.6 526.5,768.3 528.2,767.8 529.9,766.8 531.6,766.3 533.3,765.8 535.0,765.6 536.7,765.0 538.4,765.7 540.1,765.7 541.8,766.7 543.5,767.7 545.2,769.0 546.9,770.2 548.6,770.5 550.3,769.8 552.0,768.9 553.7,767.2 555.4,765.1 557.1,763.8 558.8,763.0 560.5,763.0 562.2,763.2 563.9,763.5 565.6,763.7 567.3,764.9 569.0,764.8 570.7,764.8 572.4,764.1 574.1,761.8 575.8,757.8 577.5,753.8 579.2,750.9 580.9,752.5 582.6,757.5 584.3,761.9 586.0,766.1 587.7,769.5 589.4,770.4 591.1,770.9 592.8,769.2 594.5,767.1 596.2,765.7 597.9,765.5 599.6,765.4 601.3,764.7 603.0,765.0 604.7,765.0 606.4,765.0 608.1,764.8 609.8,764.7 611.5,765.1 613.2,765.3 614.9,764.6 616.6,764.8 618.3,765.3 620.0,765.3 621.7,765.1 623.4,764.6 625.1,765.2 626.8,765.4 628.5,765.4 630.2,765.2 631.9,764.6 633.6,765.3 635.3,764.7 637.0,765.1 638.7,765.4 640.4,765.2 642.1,764.7 643.8,764.8 645.5,765.3 647.2,764.6 648.9,764.9 650.6,764.6 652.3,764.1 654.0,764.3 655.7,763.4 657.4,763.0 659.1,762.9 660.8,762.3 662.5,762.1 664.2,762.6 665.9,762.9 667.6,763.4 669.3,763.1 671.0,763.8 672.7,764.1 674.4,764.8 676.1,765.1 677.8,765.8 679.5,765.7 681.2,765.9 682.9,767.0 684.6,767.1 686.3,768.1 688.0,768.6 689.7,769.4 691.4,769.4 693.1,769.6 694.8,769.2 696.5,769.2 698.2,768.5 699.9,768.4 701.6,767.6 703.3,766.6 705.0,766.2 706.7,765.9 708.4,765.9 710.1,765.1 711.8,765.5 713.5,765.3 715.2,764.7 716.9,765.2 718.6,764.7 720.3,764.7 722.0,765.1 723.7,764.7 725.4,765.1 727.1,764.5 728.8,763.9 730.5,763.7 732.2,762.0 733.9,761.4 735.6,759.5 737.3,758.4 739.0,758.4 740.7,758.0 742.4,758.0 744.1,758.9 745.8,761.0 747.5,762.0 749.2,763.4 750.9,763.8 752.6,765.2 754.3,765.8 756.0,766.6 757.7,767.5 759.4,768.6 761.1,769.0 762.8,769.4 764.5,769.1 766.2,769.2 767.9,768.4 769.6,767.7 771.3,766.6 773.0,766.4 774.7,765.6 776.4,765.4 778.1,765.4 779.8,765.7 781.5,765.9 783.2,766.6 784.9,767.8 786.6,769.2 788.3,769.9 790.0,770.8 791.7,769.6 793.4,768.5 795.1,766.2 796.8,765.0 798.5,764.0 800.2,762.9 801.9,762.5 803.6,763.0 805.3,763.3 807.0,764.0 808.7,764.4 810.4,764.7 812.1,764.4 813.8,763.8 815.5,760.4 817.2,756.3 818.9,752.2 820.6,750.8 822.3,753.6 824.0,758.4 825.7,763.5 827.4,766.8 829.1,770.2 830.8,770.8 832.5,770.7 834.2,768.7 835.9,766.9 837.6,765.6 839.3,765.6 841.0,764.7 842.7,765.2 844.4,764.8 846.1,765.2 847.8,765.2 849.5,764.7 851.2,764.7 852.9,764.6" stroke-width="1.8" stroke="#b0b0b0" stroke-linejoin="round"/>
<line x1="505.2" y1="730.8" x2="505.2" y2="798" stroke-width="1.4"/>
<line x1="817.4" y1="730.6" x2="817.4" y2="798" stroke-width="1.4"/>
<path d="M501.5,760.5l3.5,4.5l-3.5,4.5zM817,759.8h3v10h-3z" fill="#a9a9a9" stroke="none"/>
</g>
<g font-family='"Liberation Sans", Arial, sans-serif' font-weight="bold" font-size="19" fill="#fff">
<text x="246.1" y="441.9" textLength="308.8" lengthAdjust="spacingAndGlyphs">‘E’ wave of rapid ventricular filling</text>
<text x="559" y="548" textLength="143.4" lengthAdjust="spacingAndGlyphs">Absent ‘A’ wave</text>
</g>
<line x1="269.5" y1="463.8" x2="251.2" y2="481.4" stroke="#fff" stroke-width="1.6"/>
<polygon points="244.0,488.3 248.3,478.3 254.2,484.4" fill="#fff"/>
<line x1="589.6" y1="571.0" x2="577.8" y2="594.3" stroke="#fff" stroke-width="1.6"/>
<polygon points="573.3,603.2 574.0,592.4 581.6,596.2" fill="#fff"/>
</g>
<g>
<g stroke="#d9d9d9" stroke-width="1.6" fill="none">
<line x1="1251.6" y1="511.7" x2="1977.0" y2="511.7"/>
<line x1="1251.6" y1="541.0" x2="1977.0" y2="541.0"/>
<line x1="1251.6" y1="570.3" x2="1977.0" y2="570.3"/>
<line x1="1251.6" y1="599.5" x2="1977.0" y2="599.5"/>
<line x1="1251.6" y1="628.8" x2="1977.0" y2="628.8"/>
<line x1="1251.6" y1="658.1" x2="1977.0" y2="658.1"/>
<line x1="1251.6" y1="687.4" x2="1977.0" y2="687.4"/>
<line x1="1251.6" y1="716.6" x2="1977.0" y2="716.6" stroke="#bfbfbf"/>
<line x1="1251.6" y1="745.9" x2="1977.0" y2="745.9"/>
<line x1="1251.6" y1="775.2" x2="1977.0" y2="775.2"/>
<line x1="1251.6" y1="511.7" x2="1251.6" y2="775.2" stroke="#bfbfbf"/>
<line x1="1342.3" y1="511.7" x2="1342.3" y2="775.2"/>
<line x1="1432.9" y1="511.7" x2="1432.9" y2="775.2"/>
<line x1="1523.6" y1="511.7" x2="1523.6" y2="775.2"/>
<line x1="1614.3" y1="511.7" x2="1614.3" y2="775.2"/>
<line x1="1705.0" y1="511.7" x2="1705.0" y2="775.2"/>
<line x1="1795.7" y1="511.7" x2="1795.7" y2="775.2"/>
<line x1="1886.3" y1="511.7" x2="1886.3" y2="775.2"/>
<line x1="1977.0" y1="511.7" x2="1977.0" y2="775.2"/>
</g>
<path d="M1251.6,716.6C1252.1,719.0 1253.2,726.8 1254.3,730.7C1255.5,734.6 1257.2,736.7 1258.5,740.1C1259.8,743.5 1261.0,747.9 1262.2,751.2C1263.4,754.5 1263.6,758.8 1265.5,760.0C1267.3,761.1 1270.4,759.3 1273.4,758.2C1276.3,757.1 1279.7,755.1 1283.0,753.5C1286.3,752.0 1289.8,750.8 1293.1,748.9C1296.4,746.9 1299.5,744.0 1302.8,741.8C1306.2,739.7 1309.5,737.6 1313.3,736.0C1317.0,734.3 1321.2,733.2 1325.4,731.9C1329.6,730.5 1334.1,728.9 1338.3,727.8C1342.5,726.6 1345.8,725.5 1350.4,724.8C1355.0,724.2 1360.5,724.5 1365.9,724.1C1371.2,723.7 1375.4,722.9 1382.6,722.5C1389.9,722.1 1402.0,721.9 1409.4,721.7C1416.7,721.6 1420.8,721.9 1426.6,721.7C1432.4,721.6 1438.5,721.1 1444.4,720.7C1450.3,720.4 1456.0,720.3 1462.0,719.9C1467.9,719.4 1474.6,718.6 1479.9,718.0C1485.3,717.5 1489.6,716.9 1494.2,716.6C1498.7,716.4 1502.4,716.6 1507.3,716.6C1512.2,716.6 1517.9,716.5 1523.6,716.6C1529.4,716.7 1537.1,719.1 1541.8,717.2C1546.4,715.4 1548.7,709.9 1551.4,705.5C1554.1,701.1 1555.5,696.8 1558.1,690.9C1560.7,684.9 1564.4,676.6 1567.1,669.8C1569.9,663.0 1572.6,655.5 1574.9,650.2C1577.1,644.9 1578.7,643.0 1580.8,638.2C1582.8,633.4 1584.9,626.9 1586.9,621.4C1588.9,615.8 1590.9,610.0 1592.9,604.8C1594.9,599.6 1596.7,595.2 1598.9,590.2C1601.1,585.1 1603.6,579.7 1606.1,574.4C1608.7,569.0 1611.3,562.5 1614.1,558.0C1616.9,553.4 1619.5,550.6 1622.9,546.8C1626.4,543.1 1630.7,538.1 1634.9,535.4C1639.0,532.7 1643.8,531.4 1647.8,530.7C1651.9,530.0 1655.3,529.3 1659.4,531.2C1663.4,533.1 1668.7,538.0 1672.3,542.1C1676.0,546.3 1678.4,551.6 1681.4,555.9C1684.4,560.1 1687.0,563.0 1690.2,567.4C1693.4,571.9 1697.7,577.9 1700.8,582.8C1703.9,587.7 1706.1,592.2 1708.6,596.7C1711.1,601.2 1713.0,604.9 1715.9,609.8C1718.7,614.7 1722.7,621.0 1725.8,626.0C1728.9,631.0 1731.7,635.4 1734.5,639.9C1737.4,644.4 1740.1,648.8 1743.1,653.0C1746.1,657.2 1746.8,658.5 1752.5,665.1C1758.2,671.7 1768.4,685.0 1777.1,692.4C1785.7,699.8 1795.4,706.0 1804.4,709.6C1813.5,713.3 1822.5,713.4 1831.5,714.3C1840.4,715.2 1849.1,715.1 1858.2,715.2C1867.4,715.4 1877.2,715.1 1886.3,715.2C1895.5,715.4 1904.3,715.9 1913.3,716.1C1922.2,716.2 1932.8,716.0 1940.3,716.1C1947.8,716.2 1952.3,716.5 1958.4,716.6C1964.5,716.7 1973.9,716.6 1977.0,716.6" fill="none" stroke="#ed7d31" stroke-width="2.4" stroke-linejoin="round"/>
<g fill="#ed7d31">
<circle cx="1251.6" cy="716.6" r="5"/>
<circle cx="1254.3" cy="730.7" r="5"/>
<circle cx="1258.5" cy="740.1" r="5"/>
<circle cx="1262.2" cy="751.2" r="5"/>
<circle cx="1265.5" cy="760.0" r="5"/>
<circle cx="1273.4" cy="758.2" r="5"/>
<circle cx="1283.0" cy="753.5" r="5"/>
<circle cx="1293.1" cy="748.9" r="5"/>
<circle cx="1302.8" cy="741.8" r="5"/>
<circle cx="1313.3" cy="736.0" r="5"/>
<circle cx="1325.4" cy="731.9" r="5"/>
<circle cx="1338.3" cy="727.8" r="5"/>
<circle cx="1350.4" cy="724.8" r="5"/>
<circle cx="1365.9" cy="724.1" r="5"/>
<circle cx="1382.6" cy="722.5" r="5"/>
<circle cx="1409.4" cy="721.7" r="5"/>
<circle cx="1426.6" cy="721.7" r="5"/>
<circle cx="1444.4" cy="720.7" r="5"/>
<circle cx="1462.0" cy="719.9" r="5"/>
<circle cx="1479.9" cy="718.0" r="5"/>
<circle cx="1494.2" cy="716.6" r="5"/>
<circle cx="1507.3" cy="716.6" r="5"/>
<circle cx="1523.6" cy="716.6" r="5"/>
<circle cx="1541.8" cy="717.2" r="5"/>
<circle cx="1551.4" cy="705.5" r="5"/>
<circle cx="1558.1" cy="690.9" r="5"/>
<circle cx="1567.1" cy="669.8" r="5"/>
<circle cx="1574.9" cy="650.2" r="5"/>
<circle cx="1580.8" cy="638.2" r="5"/>
<circle cx="1586.9" cy="621.4" r="5"/>
<circle cx="1592.9" cy="604.8" r="5"/>
<circle cx="1598.9" cy="590.2" r="5"/>
<circle cx="1606.1" cy="574.4" r="5"/>
<circle cx="1614.1" cy="558.0" r="5"/>
<circle cx="1622.9" cy="546.8" r="5"/>
<circle cx="1634.9" cy="535.4" r="5"/>
<circle cx="1647.8" cy="530.7" r="5"/>
<circle cx="1659.4" cy="531.2" r="5"/>
<circle cx="1672.3" cy="542.1" r="5"/>
<circle cx="1681.4" cy="555.9" r="5"/>
<circle cx="1690.2" cy="567.4" r="5"/>
<circle cx="1700.8" cy="582.8" r="5"/>
<circle cx="1708.6" cy="596.7" r="5"/>
<circle cx="1715.9" cy="609.8" r="5"/>
<circle cx="1725.8" cy="626.0" r="5"/>
<circle cx="1734.5" cy="639.9" r="5"/>
<circle cx="1743.1" cy="653.0" r="5"/>
<circle cx="1752.5" cy="665.1" r="5"/>
<circle cx="1777.1" cy="692.4" r="5"/>
<circle cx="1804.4" cy="709.6" r="5"/>
<circle cx="1831.5" cy="714.3" r="5"/>
<circle cx="1858.2" cy="715.2" r="5"/>
<circle cx="1886.3" cy="715.2" r="5"/>
<circle cx="1913.3" cy="716.1" r="5"/>
<circle cx="1940.3" cy="716.1" r="5"/>
<circle cx="1958.4" cy="716.6" r="5"/>
<circle cx="1977.0" cy="716.6" r="5"/>
</g>
<g font-family='"Liberation Sans", Arial, sans-serif' font-size="16.3" fill="#595959">
<text x="1234.6" y="517.6" text-anchor="end">0.35</text>
<text x="1234.6" y="546.9" text-anchor="end">0.3</text>
<text x="1234.6" y="576.2" text-anchor="end">0.25</text>
<text x="1234.6" y="605.4" text-anchor="end">0.2</text>
<text x="1234.6" y="634.7" text-anchor="end">0.15</text>
<text x="1234.6" y="664.0" text-anchor="end">0.1</text>
<text x="1234.6" y="693.3" text-anchor="end">0.05</text>
<text x="1234.6" y="722.5" text-anchor="end">0</text>
<text x="1234.6" y="751.8" text-anchor="end">-0.05</text>
<text x="1234.6" y="781.1" text-anchor="end">-0.1</text>
<text x="1251.6" y="746.2" text-anchor="middle">0</text>
<text x="1342.3" y="746.2" text-anchor="middle">0.1</text>
<text x="1432.9" y="746.2" text-anchor="middle">0.2</text>
<text x="1523.6" y="746.2" text-anchor="middle">0.3</text>
<text x="1614.3" y="746.2" text-anchor="middle">0.4</text>
<text x="1705.0" y="746.2" text-anchor="middle">0.5</text>
<text x="1795.7" y="746.2" text-anchor="middle">0.6</text>
<text x="1886.3" y="746.2" text-anchor="middle">0.7</text>
<text x="1977.0" y="746.2" text-anchor="middle">0.8</text>
</g>
<text x="1343.0" y="479.9" font-family='"Liberation Sans", Arial, sans-serif' font-weight="bold" font-size="30.5" fill="#595959" textLength="464.5" lengthAdjust="spacingAndGlyphs">Mitral Velocity in Atrial Fibrillation</text>
<text x="1578.0" y="799.0" font-family='"Liberation Sans", Arial, sans-serif' font-size="20.3" fill="#595959" textLength="71.2" lengthAdjust="spacingAndGlyphs">Time [s]</text>
</g>
<text transform="translate(1187,704.5) rotate(-90)" font-family='"Liberation Sans", Arial, sans-serif' font-size="20.3" fill="#595959" textLength="123.6" lengthAdjust="spacingAndGlyphs">Velocity [m/s]</text>
<g font-family='"Liberation Sans", Arial, sans-serif' font-weight="bold" font-size="50.5" fill="#000">
<text x="53.2" y="362.9" textLength="38.4" lengthAdjust="spacingAndGlyphs">A</text>
<text x="1138.8" y="349.2">B</text>
<text x="54.8" y="788.6" textLength="33.6" lengthAdjust="spacingAndGlyphs">C</text>
<text x="1138.8" y="775.1">D</text>
</g>
</svg></body></html>
